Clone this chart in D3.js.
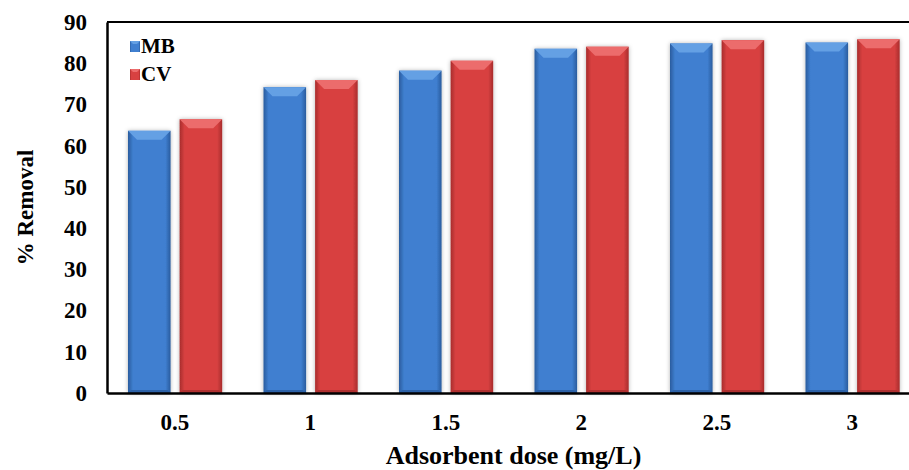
<!DOCTYPE html>
<html>
<head>
<meta charset="utf-8">
<script src="https://cdn.jsdelivr.net/npm/d3@7"></script>
<style>
body { margin: 0; background: #fff; }
text { font-family: "Liberation Serif", "Times New Roman", serif; font-weight: bold; fill: #000; }
</style>
</head>
<body>
<script>
var width = 909, height = 470;

// data
var doses = ["0.5", "1", "1.5", "2", "2.5", "3"];
var series = ["MB", "CV"];
var mbValues = [63.6, 74.2, 78.2, 83.5, 84.8, 85.0];
var cvValues = [66.4, 75.9, 80.6, 84.0, 85.6, 85.8];
var yTicks = [0, 10, 20, 30, 40, 50, 60, 70, 80, 90];

var colors = {
    MB: { mid: "#3f7fd0", edge: "#2a5c9e", top: "#64a0e4", bottom: "#2d62a8" },
    CV: { mid: "#d84141", edge: "#a82c2c", top: "#ec6c6c", bottom: "#b03030" }
};

var margin = { left: 107, top: 22, bottom: 77, rightEdge: 920 };

var svg = d3.select("body").append("svg")
            .attr("width", width).attr("height", height);

var defs = svg.append("defs");
series.forEach(function(s){
    var g = defs.append("linearGradient").attr("id", "grad" + s)
                .attr("x1", "0").attr("x2", "1").attr("y1", "0").attr("y2", "0");
    g.append("stop").attr("offset", "0").attr("stop-color", colors[s].edge);
    g.append("stop").attr("offset", "0.12").attr("stop-color", colors[s].mid);
    g.append("stop").attr("offset", "0.88").attr("stop-color", colors[s].mid);
    g.append("stop").attr("offset", "1").attr("stop-color", colors[s].edge);
});
var shadow = defs.append("filter").attr("id", "shadow")
                 .attr("x", "-20%").attr("y", "-5%").attr("width", "140%").attr("height", "110%");
shadow.append("feDropShadow").attr("dx", 0).attr("dy", 0).attr("stdDeviation", 2)
      .attr("flood-color", "#000").attr("flood-opacity", 0.3);

var x0 = d3.scaleBand().domain(doses).range([margin.left, margin.rightEdge]);
var bw = x0.bandwidth();
var x1 = d3.scaleBand().domain(series).range([bw * 0.155, bw * 0.85]).paddingInner(0.175);
var y = d3.scaleLinear().domain([0, 90]).range([height - margin.bottom, margin.top]);

var rows = doses.map(function(d, i){
    return { dose: d, values: [{ key: "MB", v: mbValues[i] }, { key: "CV", v: cvValues[i] }] };
});

var groups = svg.append("g").selectAll(".grp").data(rows).enter().append("g")
                .attr("transform", function(d){ return "translate(" + x0(d.dose) + ",0)"; });

var bars = groups.selectAll(".bar").data(function(d){ return d.values; }).enter().append("g");

bars.append("rect")
    .attr("x", function(d){ return x1(d.key); })
    .attr("y", function(d){ return y(d.v); })
    .attr("width", x1.bandwidth())
    .attr("height", function(d){ return y(0) - y(d.v); })
    .attr("fill", function(d){ return "url(#grad" + d.key + ")"; })
    .attr("filter", "url(#shadow)");

// bevel on top of each bar
var bev = 9;
bars.append("path")
    .attr("d", function(d){
        var xa = x1(d.key), xb = xa + x1.bandwidth(), yt = y(d.v);
        return "M" + xa + "," + yt + "L" + xb + "," + yt + "L" + (xb - bev) + "," + (yt + bev) +
               "L" + (xa + bev) + "," + (yt + bev) + "Z";
    })
    .attr("fill", function(d){ return colors[d.key].top; });
bars.append("path")
    .attr("d", function(d){
        var xa = x1(d.key), xb = xa + x1.bandwidth(), yb = y(0);
        return "M" + xa + "," + yb + "L" + xb + "," + yb + "L" + (xb - 3) + "," + (yb - 3) +
               "L" + (xa + 3) + "," + (yb - 3) + "Z";
    })
    .attr("fill", function(d){ return colors[d.key].bottom; });

// frame
svg.append("line").attr("x1", margin.left).attr("x2", width).attr("y1", y(90)).attr("y2", y(90))
   .attr("stroke", "#000").attr("stroke-width", 2);

var yAxis = svg.append("g").attr("transform", "translate(" + margin.left + ",0)")
               .call(d3.axisLeft(y).tickValues(yTicks).tickSize(0).tickPadding(20));
yAxis.select(".domain").attr("stroke", "#000").attr("stroke-width", 2.5);
yAxis.selectAll("text").style("font-size", "23px").style("font-family", "Liberation Serif").style("font-weight", "bold");

var xAxis = svg.append("g").attr("transform", "translate(0," + y(0) + ")")
               .call(d3.axisBottom(x0).tickSize(0).tickPadding(21));
xAxis.select(".domain").attr("stroke", "#000").attr("stroke-width", 2.5);
xAxis.selectAll("text").style("font-size", "23px").style("font-family", "Liberation Serif").style("font-weight", "bold");

// axis titles
svg.append("text").attr("x", (margin.left + margin.rightEdge) / 2).attr("y", 464)
   .attr("text-anchor", "middle").style("font-size", "26px").text("Adsorbent dose (mg/L)");
svg.append("text").attr("transform", "translate(33," + ((y(0) + y(90)) / 2) + ") rotate(-90)")
   .attr("text-anchor", "middle").style("font-size", "23px").text("% Removal");

// legend
var legend = svg.append("g").attr("transform", "translate(130,41)").selectAll(".legend").data(series)
                .enter().append("g").attr("transform", function(d, i){ return "translate(0," + i * 28 + ")"; });
legend.append("rect").attr("width", 10).attr("height", 11)
      .attr("fill", function(d){ return "url(#grad" + d + ")"; });
legend.append("path").attr("d", "M0,0L10,0L7,3L3,3Z").attr("fill", function(d){ return colors[d].top; });
legend.append("text").attr("x", 11).attr("y", 12).style("font-size", "21px").text(function(d){ return d; });
</script>
</body>
</html>
